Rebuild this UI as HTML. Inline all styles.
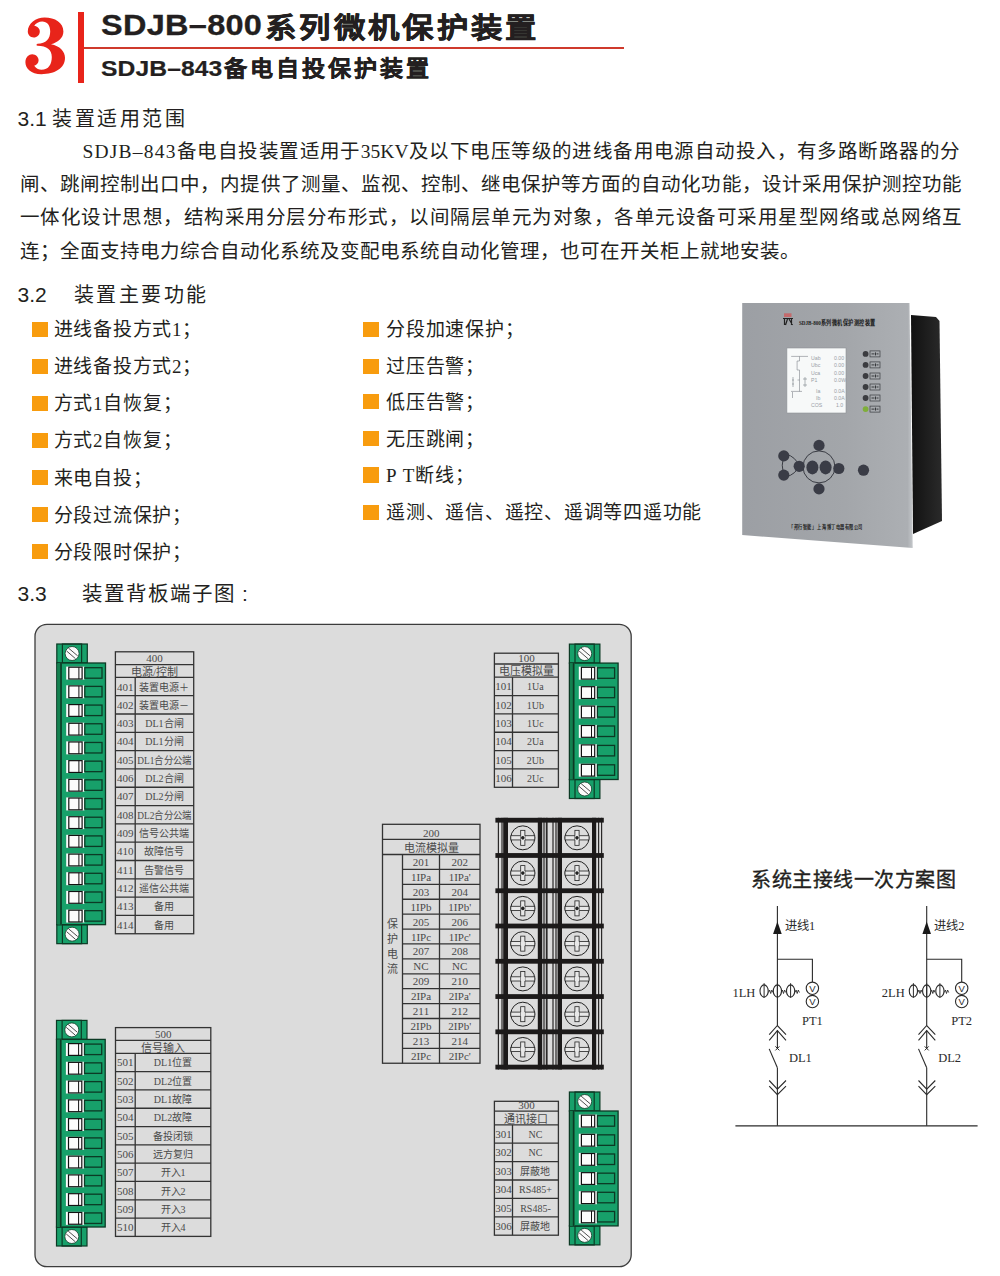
<!DOCTYPE html>
<html lang="zh-CN"><head><meta charset="utf-8"><style>
html,body{margin:0;padding:0;background:#fff;text-spacing-trim:space-all;font-kerning:none;}
body{width:1000px;height:1276px;position:relative;overflow:hidden;font-family:"Liberation Serif", serif;color:#231f20;}
.a{position:absolute;white-space:nowrap;}
.sans{font-family:"Liberation Sans", sans-serif;}
.ser{font-family:"Liberation Serif", serif;}
.jl{text-align:justify;text-align-last:justify;}
.sq{position:absolute;width:15.5px;height:15.3px;background:#f89c0e;}
</style></head><body>

<svg class="a" style="left:0;top:0" width="100" height="100"><g transform="translate(15,5) scale(0.08)"><path fill="#e8241a" d="M160,330 C160,230 260,155 370,155 C500,155 605,220 605,330 C605,410 540,465 450,490 C560,510 625,580 625,660 C625,790 500,865 330,865 C200,865 130,790 130,715 C130,650 175,615 215,615 C260,615 295,650 295,690 C295,730 270,745 240,760 C270,800 300,810 330,810 C420,810 460,740 460,650 C460,560 400,510 280,510 L265,500 L280,485 C390,480 440,420 440,330 C440,250 400,205 340,205 C300,205 260,225 240,260 C280,265 310,295 310,330 C310,375 275,405 235,405 C190,405 160,370 160,330 Z"/></g></svg>
<div class="a" style="left:78.2px;top:11.8px;width:5.7px;height:71.6px;background:#e8241a;"></div>
<div class="a" style="left:83.9px;top:47.2px;width:540.5px;height:1.8px;background:#cf3a2c;"></div>
<div class="a sans" style="left:100.5px;top:7.3px;font-size:29px;line-height:36px;font-weight:bold;letter-spacing:0.26px;color:#231f20;-webkit-text-stroke:0.3px #231f20;transform:scaleX(1.12);transform-origin:0 0;">SDJB–800</div>
<div class="a sans" style="left:265px;top:10.5px;font-size:28px;line-height:36px;font-weight:bold;letter-spacing:2.67px;color:#231f20;-webkit-text-stroke:0.5px #231f20;transform:scaleX(1.12);transform-origin:0 0;">系列微机保护装置</div>
<div class="a sans" style="left:100.5px;top:53.6px;font-size:22px;line-height:30px;font-weight:bold;letter-spacing:0.1px;color:#231f20;-webkit-text-stroke:0.2px #231f20;transform:scaleX(1.12);transform-origin:0 0;">SDJB–843</div>
<div class="a sans" style="left:223.5px;top:54px;font-size:21.5px;line-height:30px;font-weight:bold;letter-spacing:2.25px;color:#231f20;-webkit-text-stroke:0.4px #231f20;transform:scaleX(1.07);transform-origin:0 0;">备电自投保护装置</div>
<div class="a sans" style="left:17.5px;top:105px;font-size:21px;line-height:28px;">3.1</div>
<div class="a sans" style="left:52px;top:105px;font-size:20px;line-height:28px;letter-spacing:2.5px;">装置适用范围</div>
<div class="a ser jl" style="left:82.5px;top:134.75px;width:877.5px;font-size:19.5px;line-height:33.5px;"><span style="letter-spacing:1.2px">SDJB–843</span>备电自投装置适用于35KV及以下电压等级的进线备用电源自动投入，有多路断路器的分</div>
<div class="a ser jl" style="left:20px;top:168.25px;width:942px;font-size:19.5px;line-height:33.5px;">闸、跳闸控制出口中，内提供了测量、监视、控制、继电保护等方面的自动化功能，设计采用保护测控功能</div>
<div class="a ser jl" style="left:20px;top:201.25px;width:942px;font-size:19.5px;line-height:33.5px;">一体化设计思想，结构采用分层分布形式，以间隔层单元为对象，各单元设备可采用星型网络或总网络互</div>
<div class="a ser" style="left:20px;top:235.25px;font-size:19.5px;line-height:33.5px;letter-spacing:0px;">连；全面支持电力综合自动化系统及变配电系统自动化管理，也可在开关柜上就地安装。</div>
<div class="a sans" style="left:17.5px;top:280.5px;font-size:21px;line-height:28px;">3.2</div>
<div class="a sans" style="left:73.5px;top:280.5px;font-size:20px;line-height:28px;letter-spacing:2.5px;">装置主要功能</div>
<div class="sq" style="left:32px;top:321.5px;"></div>
<div class="a ser" style="left:53.5px;top:315.2px;font-size:19px;letter-spacing:0.75px;line-height:30px;">进线备投方式1；</div>
<div class="sq" style="left:32px;top:358.58px;"></div>
<div class="a ser" style="left:53.5px;top:352.28px;font-size:19px;letter-spacing:0.75px;line-height:30px;">进线备投方式2；</div>
<div class="sq" style="left:32px;top:395.66px;"></div>
<div class="a ser" style="left:53.5px;top:389.36px;font-size:19px;letter-spacing:0.75px;line-height:30px;">方式1自恢复；</div>
<div class="sq" style="left:32px;top:432.74px;"></div>
<div class="a ser" style="left:53.5px;top:426.44px;font-size:19px;letter-spacing:0.75px;line-height:30px;">方式2自恢复；</div>
<div class="sq" style="left:32px;top:469.82px;"></div>
<div class="a ser" style="left:53.5px;top:463.52px;font-size:19px;letter-spacing:0.75px;line-height:30px;">来电自投；</div>
<div class="sq" style="left:32px;top:506.8999999999999px;"></div>
<div class="a ser" style="left:53.5px;top:500.5999999999999px;font-size:19px;letter-spacing:0.75px;line-height:30px;">分段过流保护；</div>
<div class="sq" style="left:32px;top:543.9799999999999px;"></div>
<div class="a ser" style="left:53.5px;top:537.68px;font-size:19px;letter-spacing:0.75px;line-height:30px;">分段限时保护；</div>
<div class="sq" style="left:363px;top:321.5px;"></div>
<div class="a ser" style="left:386px;top:315px;font-size:19px;letter-spacing:0.75px;line-height:30px;">分段加速保护；</div>
<div class="sq" style="left:363px;top:358.5px;"></div>
<div class="a ser" style="left:386px;top:352px;font-size:19px;letter-spacing:0.75px;line-height:30px;">过压告警；</div>
<div class="sq" style="left:363px;top:394.0px;"></div>
<div class="a ser" style="left:386px;top:387.5px;font-size:19px;letter-spacing:0.75px;line-height:30px;">低压告警；</div>
<div class="sq" style="left:363px;top:431.0px;"></div>
<div class="a ser" style="left:386px;top:424.5px;font-size:19px;letter-spacing:0.75px;line-height:30px;">无压跳闸；</div>
<div class="sq" style="left:363px;top:467.3px;"></div>
<div class="a ser" style="left:386px;top:460.8px;font-size:19px;letter-spacing:0.75px;line-height:30px;">P T断线；</div>
<div class="sq" style="left:363px;top:504.9px;"></div>
<div class="a ser" style="left:386px;top:498.4px;font-size:19px;letter-spacing:0.75px;line-height:30px;">遥测、遥信、遥控、遥调等四遥功能</div>
<div class="a sans" style="left:17.5px;top:580px;font-size:21px;line-height:28px;">3.3</div>
<div class="a sans" style="left:82px;top:580px;font-size:20.5px;line-height:28px;letter-spacing:2px;">装置背板端子图</div>
<div class="a sans" style="left:242px;top:580px;font-size:21px;line-height:28px;">:</div>
<svg class="a" style="left:0;top:0" width="1000" height="1276" viewBox="0 0 1000 1276">
<defs>
<linearGradient id="pg" x1="0" y1="0" x2="1" y2="0">
<stop offset="0" stop-color="#9c9fa4"/><stop offset="0.6" stop-color="#a3a6aa"/><stop offset="0.97" stop-color="#acafb3"/><stop offset="1" stop-color="#c4c7ca"/>
</linearGradient>
<linearGradient id="bg2" x1="0" y1="0" x2="1" y2="0">
<stop offset="0" stop-color="#111"/><stop offset="1" stop-color="#2a2a2a"/>
</linearGradient>
</defs>
<polygon points="911,315 936,317 939.5,321 942,521 913,534" fill="url(#bg2)"/>
<polygon points="742.2,303 909.5,303 912.7,548 742.2,535" fill="url(#pg)"/>
<rect x="786.9" y="348" width="59.1" height="65" fill="#f7f9f9" stroke="#8e9095" stroke-width="0.6"/>
<g stroke="#7d838a" stroke-width="0.6" fill="none">
<path d="M791.2 356.4 H808 M799.5 356.4 V361 H797.1 V370 H799.5 V391.5 M791 391.4 H802 M792.5 392 V398"/>
<path d="M793 377 V387 M799.5 380 h-2 M805 377 V387 M803 379 h4 M803 385 h4 M794 380 h-2 M794 384 h-2"/>
</g>
<g fill="#9aa0a6" font-family="Liberation Sans" font-size="5.2">
<text x="811" y="359.5">Uab</text><text x="834" y="359.5">0.00</text>
<text x="811" y="367">Ubc</text><text x="834" y="367">0.00</text>
<text x="811" y="374.5">Uca</text><text x="834" y="374.5">0.00</text>
<text x="811" y="382">P1</text><text x="834" y="382">0.0W</text>
<text x="816" y="393">Ia</text><text x="834" y="393">0.0A</text>
<text x="816" y="400">Ib</text><text x="834" y="400">0.0A</text>
<text x="811" y="407">COS</text><text x="836" y="407">1.0</text>
</g>
<g fill="#505257" font-family="Liberation Serif" font-size="5">
<text x="799" y="324.8" font-size="6.5" textLength="77" lengthAdjust="spacingAndGlyphs" fill="#1c1d21" font-weight="bold">SDJB-800系列微机保护测控装置</text>
<text x="789" y="529" font-size="5.5" textLength="74" lengthAdjust="spacingAndGlyphs" fill="#1c1d21" font-weight="bold">「邦行智能」 上海博丁电器有限公司</text>
</g>
<rect x="784" y="313.3" width="7.5" height="3.7" fill="#c46a6c"/>
<path d="M783 318.5 H793 M784.5 318.5 V325 M787.5 319 L785.5 325 M789 319 L792.5 325 M791.5 319 V325" stroke="#222" stroke-width="1.2" fill="none"/>

<circle cx="865.6" cy="353.9" r="2.9" fill="#3b3c40"/><rect x="870" y="350.9" width="10" height="6" fill="none" stroke="#3a3c40" stroke-width="0.7"/><path d="M871.5 353.9 h3 M875.5 352.4 v3 M876.5 353.9 h2" stroke="#2a2c30" stroke-width="0.9"/>
<circle cx="865.6" cy="364.9" r="2.9" fill="#3b3c40"/><rect x="870" y="361.9" width="10" height="6" fill="none" stroke="#3a3c40" stroke-width="0.7"/><path d="M871.5 364.9 h3 M875.5 363.4 v3 M876.5 364.9 h2" stroke="#2a2c30" stroke-width="0.9"/>
<circle cx="865.6" cy="376" r="2.9" fill="#3b3c40"/><rect x="870" y="373" width="10" height="6" fill="none" stroke="#3a3c40" stroke-width="0.7"/><path d="M871.5 376 h3 M875.5 374.5 v3 M876.5 376 h2" stroke="#2a2c30" stroke-width="0.9"/>
<circle cx="865.6" cy="387" r="2.9" fill="#3b3c40"/><rect x="870" y="384" width="10" height="6" fill="none" stroke="#3a3c40" stroke-width="0.7"/><path d="M871.5 387 h3 M875.5 385.5 v3 M876.5 387 h2" stroke="#2a2c30" stroke-width="0.9"/>
<circle cx="865.6" cy="398" r="2.9" fill="#3b3c40"/><rect x="870" y="395" width="10" height="6" fill="none" stroke="#3a3c40" stroke-width="0.7"/><path d="M871.5 398 h3 M875.5 396.5 v3 M876.5 398 h2" stroke="#2a2c30" stroke-width="0.9"/>
<circle cx="865.6" cy="409.1" r="2.9" fill="#7fae3a"/><rect x="870" y="406.1" width="10" height="6" fill="none" stroke="#3a3c40" stroke-width="0.7"/><path d="M871.5 409.1 h3 M875.5 407.6 v3 M876.5 409.1 h2" stroke="#2a2c30" stroke-width="0.9"/>
<g fill="none" stroke="#2e3038" stroke-width="0.9">
<circle cx="819" cy="466.9" r="16"/>
<path d="M783.5 456 Q781 465 783.5 475"/><path d="M786 454 Q796 457 799 466 Q796 474 786 477"/>
</g>
<g fill="#3a3c46">
<circle cx="819" cy="445.4" r="5.6"/><circle cx="819" cy="488.9" r="5.6"/>
<circle cx="799.2" cy="466.3" r="5.6"/><circle cx="838.8" cy="468.5" r="5.6"/>
<ellipse cx="812.4" cy="467.4" rx="6" ry="7"/><ellipse cx="825.6" cy="467.4" rx="6" ry="7"/>
<circle cx="783.8" cy="455.9" r="5.6"/><circle cx="783.8" cy="475.1" r="5.6"/>
<circle cx="863.5" cy="470.2" r="5.6"/>
</g>

<rect x="35" y="624.3" width="596.2" height="642.4" rx="12" ry="12" fill="#dcdcdc" stroke="#3c3c3c" stroke-width="1.3"/>
<rect x="56.8" y="644" width="30.5" height="19" fill="#17a06a" stroke="#0c3a25" stroke-width="1.2"/><rect x="62.4" y="644" width="19.2" height="19" fill="none" stroke="#0c3a25" stroke-width="1.2"/><circle cx="72.1" cy="653.5" r="7" fill="#fbfbfb" stroke="#0c3a25" stroke-width="0.8"/><path d="M66.5 650.9 L75.5 658.7 M68.5 648.1 L77.69999999999999 655.9" stroke="#222" stroke-width="0.8"/><rect x="56.8" y="924.6600000000001" width="30.5" height="19" fill="#17a06a" stroke="#0c3a25" stroke-width="1.2"/><rect x="62.4" y="924.6600000000001" width="19.2" height="19" fill="none" stroke="#0c3a25" stroke-width="1.2"/><circle cx="72.1" cy="934.1600000000001" r="7" fill="#fbfbfb" stroke="#0c3a25" stroke-width="0.8"/><path d="M66.5 931.5600000000001 L75.5 939.3600000000001 M68.5 928.7600000000001 L77.69999999999999 936.5600000000001" stroke="#222" stroke-width="0.8"/><rect x="56.8" y="663" width="48.7" height="261.66" fill="#17a06a" stroke="#0c3a25" stroke-width="1.3"/><rect x="57.4" y="663" width="4.6" height="261.66" fill="#13804f"/><line x1="61.0" y1="663" x2="61.0" y2="924.6600000000001" stroke="#0c3a25" stroke-width="1.6"/><rect x="66.2" y="666.6" width="18.2" height="13" fill="#fcfcfc"/><rect x="68.8" y="667.2" width="13.3" height="11.8" fill="none" stroke="#111" stroke-width="1.2"/><line x1="78.9" y1="667.2" x2="78.9" y2="679.0" stroke="#111" stroke-width="1"/><rect x="84.80000000000001" y="667.7" width="17.2" height="10.5" fill="#17a06a" stroke="#0c3a25" stroke-width="1.3"/><rect x="66.2" y="685.2900000000001" width="18.2" height="13" fill="#fcfcfc"/><rect x="68.8" y="685.8900000000001" width="13.3" height="11.8" fill="none" stroke="#111" stroke-width="1.2"/><line x1="78.9" y1="685.8900000000001" x2="78.9" y2="697.69" stroke="#111" stroke-width="1"/><rect x="84.80000000000001" y="686.3900000000001" width="17.2" height="10.5" fill="#17a06a" stroke="#0c3a25" stroke-width="1.3"/><rect x="66.2" y="703.98" width="18.2" height="13" fill="#fcfcfc"/><rect x="68.8" y="704.58" width="13.3" height="11.8" fill="none" stroke="#111" stroke-width="1.2"/><line x1="78.9" y1="704.58" x2="78.9" y2="716.38" stroke="#111" stroke-width="1"/><rect x="84.80000000000001" y="705.08" width="17.2" height="10.5" fill="#17a06a" stroke="#0c3a25" stroke-width="1.3"/><rect x="66.2" y="722.6700000000001" width="18.2" height="13" fill="#fcfcfc"/><rect x="68.8" y="723.2700000000001" width="13.3" height="11.8" fill="none" stroke="#111" stroke-width="1.2"/><line x1="78.9" y1="723.2700000000001" x2="78.9" y2="735.07" stroke="#111" stroke-width="1"/><rect x="84.80000000000001" y="723.7700000000001" width="17.2" height="10.5" fill="#17a06a" stroke="#0c3a25" stroke-width="1.3"/><rect x="66.2" y="741.36" width="18.2" height="13" fill="#fcfcfc"/><rect x="68.8" y="741.96" width="13.3" height="11.8" fill="none" stroke="#111" stroke-width="1.2"/><line x1="78.9" y1="741.96" x2="78.9" y2="753.76" stroke="#111" stroke-width="1"/><rect x="84.80000000000001" y="742.46" width="17.2" height="10.5" fill="#17a06a" stroke="#0c3a25" stroke-width="1.3"/><rect x="66.2" y="760.0500000000001" width="18.2" height="13" fill="#fcfcfc"/><rect x="68.8" y="760.6500000000001" width="13.3" height="11.8" fill="none" stroke="#111" stroke-width="1.2"/><line x1="78.9" y1="760.6500000000001" x2="78.9" y2="772.45" stroke="#111" stroke-width="1"/><rect x="84.80000000000001" y="761.1500000000001" width="17.2" height="10.5" fill="#17a06a" stroke="#0c3a25" stroke-width="1.3"/><rect x="66.2" y="778.74" width="18.2" height="13" fill="#fcfcfc"/><rect x="68.8" y="779.34" width="13.3" height="11.8" fill="none" stroke="#111" stroke-width="1.2"/><line x1="78.9" y1="779.34" x2="78.9" y2="791.14" stroke="#111" stroke-width="1"/><rect x="84.80000000000001" y="779.84" width="17.2" height="10.5" fill="#17a06a" stroke="#0c3a25" stroke-width="1.3"/><rect x="66.2" y="797.4300000000001" width="18.2" height="13" fill="#fcfcfc"/><rect x="68.8" y="798.0300000000001" width="13.3" height="11.8" fill="none" stroke="#111" stroke-width="1.2"/><line x1="78.9" y1="798.0300000000001" x2="78.9" y2="809.83" stroke="#111" stroke-width="1"/><rect x="84.80000000000001" y="798.5300000000001" width="17.2" height="10.5" fill="#17a06a" stroke="#0c3a25" stroke-width="1.3"/><rect x="66.2" y="816.12" width="18.2" height="13" fill="#fcfcfc"/><rect x="68.8" y="816.72" width="13.3" height="11.8" fill="none" stroke="#111" stroke-width="1.2"/><line x1="78.9" y1="816.72" x2="78.9" y2="828.52" stroke="#111" stroke-width="1"/><rect x="84.80000000000001" y="817.22" width="17.2" height="10.5" fill="#17a06a" stroke="#0c3a25" stroke-width="1.3"/><rect x="66.2" y="834.8100000000001" width="18.2" height="13" fill="#fcfcfc"/><rect x="68.8" y="835.4100000000001" width="13.3" height="11.8" fill="none" stroke="#111" stroke-width="1.2"/><line x1="78.9" y1="835.4100000000001" x2="78.9" y2="847.21" stroke="#111" stroke-width="1"/><rect x="84.80000000000001" y="835.9100000000001" width="17.2" height="10.5" fill="#17a06a" stroke="#0c3a25" stroke-width="1.3"/><rect x="66.2" y="853.5" width="18.2" height="13" fill="#fcfcfc"/><rect x="68.8" y="854.1" width="13.3" height="11.8" fill="none" stroke="#111" stroke-width="1.2"/><line x1="78.9" y1="854.1" x2="78.9" y2="865.9" stroke="#111" stroke-width="1"/><rect x="84.80000000000001" y="854.6" width="17.2" height="10.5" fill="#17a06a" stroke="#0c3a25" stroke-width="1.3"/><rect x="66.2" y="872.19" width="18.2" height="13" fill="#fcfcfc"/><rect x="68.8" y="872.7900000000001" width="13.3" height="11.8" fill="none" stroke="#111" stroke-width="1.2"/><line x1="78.9" y1="872.7900000000001" x2="78.9" y2="884.59" stroke="#111" stroke-width="1"/><rect x="84.80000000000001" y="873.2900000000001" width="17.2" height="10.5" fill="#17a06a" stroke="#0c3a25" stroke-width="1.3"/><rect x="66.2" y="890.8800000000001" width="18.2" height="13" fill="#fcfcfc"/><rect x="68.8" y="891.4800000000001" width="13.3" height="11.8" fill="none" stroke="#111" stroke-width="1.2"/><line x1="78.9" y1="891.4800000000001" x2="78.9" y2="903.2800000000001" stroke="#111" stroke-width="1"/><rect x="84.80000000000001" y="891.9800000000001" width="17.2" height="10.5" fill="#17a06a" stroke="#0c3a25" stroke-width="1.3"/><rect x="66.2" y="909.57" width="18.2" height="13" fill="#fcfcfc"/><rect x="68.8" y="910.1700000000001" width="13.3" height="11.8" fill="none" stroke="#111" stroke-width="1.2"/><line x1="78.9" y1="910.1700000000001" x2="78.9" y2="921.97" stroke="#111" stroke-width="1"/><rect x="84.80000000000001" y="910.6700000000001" width="17.2" height="10.5" fill="#17a06a" stroke="#0c3a25" stroke-width="1.3"/>
<rect x="569.4" y="644.1" width="30.5" height="19" fill="#17a06a" stroke="#0c3a25" stroke-width="1.2"/><rect x="575.0" y="644.1" width="19.2" height="19" fill="none" stroke="#0c3a25" stroke-width="1.2"/><circle cx="584.6999999999999" cy="653.6" r="7" fill="#fbfbfb" stroke="#0c3a25" stroke-width="0.8"/><path d="M579.0999999999999 651.0 L588.0999999999999 658.8000000000001 M581.0999999999999 648.2 L590.3 656.0" stroke="#222" stroke-width="0.8"/><rect x="569.4" y="779.5" width="30.5" height="19" fill="#17a06a" stroke="#0c3a25" stroke-width="1.2"/><rect x="575.0" y="779.5" width="19.2" height="19" fill="none" stroke="#0c3a25" stroke-width="1.2"/><circle cx="584.6999999999999" cy="789.0" r="7" fill="#fbfbfb" stroke="#0c3a25" stroke-width="0.8"/><path d="M579.0999999999999 786.4 L588.0999999999999 794.2 M581.0999999999999 783.6 L590.3 791.4" stroke="#222" stroke-width="0.8"/><rect x="569.4" y="663.1" width="48.7" height="116.39999999999999" fill="#17a06a" stroke="#0c3a25" stroke-width="1.3"/><rect x="570.0" y="663.1" width="4.6" height="116.39999999999999" fill="#13804f"/><line x1="573.6" y1="663.1" x2="573.6" y2="779.5" stroke="#0c3a25" stroke-width="1.6"/><rect x="578.8" y="666.7" width="18.2" height="13" fill="#fcfcfc"/><rect x="581.4" y="667.3000000000001" width="13.3" height="11.8" fill="none" stroke="#111" stroke-width="1.2"/><line x1="591.5" y1="667.3000000000001" x2="591.5" y2="679.1" stroke="#111" stroke-width="1"/><rect x="597.4" y="667.8000000000001" width="17.2" height="10.5" fill="#17a06a" stroke="#0c3a25" stroke-width="1.3"/><rect x="578.8" y="686.1" width="18.2" height="13" fill="#fcfcfc"/><rect x="581.4" y="686.7" width="13.3" height="11.8" fill="none" stroke="#111" stroke-width="1.2"/><line x1="591.5" y1="686.7" x2="591.5" y2="698.5" stroke="#111" stroke-width="1"/><rect x="597.4" y="687.2" width="17.2" height="10.5" fill="#17a06a" stroke="#0c3a25" stroke-width="1.3"/><rect x="578.8" y="705.5" width="18.2" height="13" fill="#fcfcfc"/><rect x="581.4" y="706.1" width="13.3" height="11.8" fill="none" stroke="#111" stroke-width="1.2"/><line x1="591.5" y1="706.1" x2="591.5" y2="717.9" stroke="#111" stroke-width="1"/><rect x="597.4" y="706.6" width="17.2" height="10.5" fill="#17a06a" stroke="#0c3a25" stroke-width="1.3"/><rect x="578.8" y="724.9000000000001" width="18.2" height="13" fill="#fcfcfc"/><rect x="581.4" y="725.5000000000001" width="13.3" height="11.8" fill="none" stroke="#111" stroke-width="1.2"/><line x1="591.5" y1="725.5000000000001" x2="591.5" y2="737.3000000000001" stroke="#111" stroke-width="1"/><rect x="597.4" y="726.0000000000001" width="17.2" height="10.5" fill="#17a06a" stroke="#0c3a25" stroke-width="1.3"/><rect x="578.8" y="744.3000000000001" width="18.2" height="13" fill="#fcfcfc"/><rect x="581.4" y="744.9000000000001" width="13.3" height="11.8" fill="none" stroke="#111" stroke-width="1.2"/><line x1="591.5" y1="744.9000000000001" x2="591.5" y2="756.7" stroke="#111" stroke-width="1"/><rect x="597.4" y="745.4000000000001" width="17.2" height="10.5" fill="#17a06a" stroke="#0c3a25" stroke-width="1.3"/><rect x="578.8" y="763.7" width="18.2" height="13" fill="#fcfcfc"/><rect x="581.4" y="764.3000000000001" width="13.3" height="11.8" fill="none" stroke="#111" stroke-width="1.2"/><line x1="591.5" y1="764.3000000000001" x2="591.5" y2="776.1" stroke="#111" stroke-width="1"/><rect x="597.4" y="764.8000000000001" width="17.2" height="10.5" fill="#17a06a" stroke="#0c3a25" stroke-width="1.3"/>
<rect x="56.5" y="1020.4" width="30.5" height="19" fill="#17a06a" stroke="#0c3a25" stroke-width="1.2"/><rect x="62.1" y="1020.4" width="19.2" height="19" fill="none" stroke="#0c3a25" stroke-width="1.2"/><circle cx="71.8" cy="1029.9" r="7" fill="#fbfbfb" stroke="#0c3a25" stroke-width="0.8"/><path d="M66.2 1027.3000000000002 L75.2 1035.1000000000001 M68.2 1024.5 L77.39999999999999 1032.3000000000002" stroke="#222" stroke-width="0.8"/><rect x="56.5" y="1227.0" width="30.5" height="19" fill="#17a06a" stroke="#0c3a25" stroke-width="1.2"/><rect x="62.1" y="1227.0" width="19.2" height="19" fill="none" stroke="#0c3a25" stroke-width="1.2"/><circle cx="71.8" cy="1236.5" r="7" fill="#fbfbfb" stroke="#0c3a25" stroke-width="0.8"/><path d="M66.2 1233.9 L75.2 1241.7 M68.2 1231.1 L77.39999999999999 1238.9" stroke="#222" stroke-width="0.8"/><rect x="56.5" y="1039.4" width="48.7" height="187.60000000000002" fill="#17a06a" stroke="#0c3a25" stroke-width="1.3"/><rect x="57.1" y="1039.4" width="4.6" height="187.60000000000002" fill="#13804f"/><line x1="60.7" y1="1039.4" x2="60.7" y2="1227.0" stroke="#0c3a25" stroke-width="1.6"/><rect x="65.9" y="1043.0" width="18.2" height="13" fill="#fcfcfc"/><rect x="68.5" y="1043.6" width="13.3" height="11.8" fill="none" stroke="#111" stroke-width="1.2"/><line x1="78.60000000000001" y1="1043.6" x2="78.60000000000001" y2="1055.4" stroke="#111" stroke-width="1"/><rect x="84.5" y="1044.1" width="17.2" height="10.5" fill="#17a06a" stroke="#0c3a25" stroke-width="1.3"/><rect x="65.9" y="1061.76" width="18.2" height="13" fill="#fcfcfc"/><rect x="68.5" y="1062.36" width="13.3" height="11.8" fill="none" stroke="#111" stroke-width="1.2"/><line x1="78.60000000000001" y1="1062.36" x2="78.60000000000001" y2="1074.16" stroke="#111" stroke-width="1"/><rect x="84.5" y="1062.86" width="17.2" height="10.5" fill="#17a06a" stroke="#0c3a25" stroke-width="1.3"/><rect x="65.9" y="1080.52" width="18.2" height="13" fill="#fcfcfc"/><rect x="68.5" y="1081.12" width="13.3" height="11.8" fill="none" stroke="#111" stroke-width="1.2"/><line x1="78.60000000000001" y1="1081.12" x2="78.60000000000001" y2="1092.92" stroke="#111" stroke-width="1"/><rect x="84.5" y="1081.62" width="17.2" height="10.5" fill="#17a06a" stroke="#0c3a25" stroke-width="1.3"/><rect x="65.9" y="1099.28" width="18.2" height="13" fill="#fcfcfc"/><rect x="68.5" y="1099.8799999999999" width="13.3" height="11.8" fill="none" stroke="#111" stroke-width="1.2"/><line x1="78.60000000000001" y1="1099.8799999999999" x2="78.60000000000001" y2="1111.68" stroke="#111" stroke-width="1"/><rect x="84.5" y="1100.3799999999999" width="17.2" height="10.5" fill="#17a06a" stroke="#0c3a25" stroke-width="1.3"/><rect x="65.9" y="1118.04" width="18.2" height="13" fill="#fcfcfc"/><rect x="68.5" y="1118.6399999999999" width="13.3" height="11.8" fill="none" stroke="#111" stroke-width="1.2"/><line x1="78.60000000000001" y1="1118.6399999999999" x2="78.60000000000001" y2="1130.44" stroke="#111" stroke-width="1"/><rect x="84.5" y="1119.1399999999999" width="17.2" height="10.5" fill="#17a06a" stroke="#0c3a25" stroke-width="1.3"/><rect x="65.9" y="1136.8" width="18.2" height="13" fill="#fcfcfc"/><rect x="68.5" y="1137.3999999999999" width="13.3" height="11.8" fill="none" stroke="#111" stroke-width="1.2"/><line x1="78.60000000000001" y1="1137.3999999999999" x2="78.60000000000001" y2="1149.2" stroke="#111" stroke-width="1"/><rect x="84.5" y="1137.8999999999999" width="17.2" height="10.5" fill="#17a06a" stroke="#0c3a25" stroke-width="1.3"/><rect x="65.9" y="1155.56" width="18.2" height="13" fill="#fcfcfc"/><rect x="68.5" y="1156.1599999999999" width="13.3" height="11.8" fill="none" stroke="#111" stroke-width="1.2"/><line x1="78.60000000000001" y1="1156.1599999999999" x2="78.60000000000001" y2="1167.96" stroke="#111" stroke-width="1"/><rect x="84.5" y="1156.6599999999999" width="17.2" height="10.5" fill="#17a06a" stroke="#0c3a25" stroke-width="1.3"/><rect x="65.9" y="1174.32" width="18.2" height="13" fill="#fcfcfc"/><rect x="68.5" y="1174.9199999999998" width="13.3" height="11.8" fill="none" stroke="#111" stroke-width="1.2"/><line x1="78.60000000000001" y1="1174.9199999999998" x2="78.60000000000001" y2="1186.72" stroke="#111" stroke-width="1"/><rect x="84.5" y="1175.4199999999998" width="17.2" height="10.5" fill="#17a06a" stroke="#0c3a25" stroke-width="1.3"/><rect x="65.9" y="1193.08" width="18.2" height="13" fill="#fcfcfc"/><rect x="68.5" y="1193.6799999999998" width="13.3" height="11.8" fill="none" stroke="#111" stroke-width="1.2"/><line x1="78.60000000000001" y1="1193.6799999999998" x2="78.60000000000001" y2="1205.48" stroke="#111" stroke-width="1"/><rect x="84.5" y="1194.1799999999998" width="17.2" height="10.5" fill="#17a06a" stroke="#0c3a25" stroke-width="1.3"/><rect x="65.9" y="1211.84" width="18.2" height="13" fill="#fcfcfc"/><rect x="68.5" y="1212.4399999999998" width="13.3" height="11.8" fill="none" stroke="#111" stroke-width="1.2"/><line x1="78.60000000000001" y1="1212.4399999999998" x2="78.60000000000001" y2="1224.24" stroke="#111" stroke-width="1"/><rect x="84.5" y="1212.9399999999998" width="17.2" height="10.5" fill="#17a06a" stroke="#0c3a25" stroke-width="1.3"/>
<rect x="569.4" y="1092" width="30.5" height="19" fill="#17a06a" stroke="#0c3a25" stroke-width="1.2"/><rect x="575.0" y="1092" width="19.2" height="19" fill="none" stroke="#0c3a25" stroke-width="1.2"/><circle cx="584.6999999999999" cy="1101.5" r="7" fill="#fbfbfb" stroke="#0c3a25" stroke-width="0.8"/><path d="M579.0999999999999 1098.9 L588.0999999999999 1106.7 M581.0999999999999 1096.1 L590.3 1103.9" stroke="#222" stroke-width="0.8"/><rect x="569.4" y="1225.9" width="30.5" height="19" fill="#17a06a" stroke="#0c3a25" stroke-width="1.2"/><rect x="575.0" y="1225.9" width="19.2" height="19" fill="none" stroke="#0c3a25" stroke-width="1.2"/><circle cx="584.6999999999999" cy="1235.4" r="7" fill="#fbfbfb" stroke="#0c3a25" stroke-width="0.8"/><path d="M579.0999999999999 1232.8000000000002 L588.0999999999999 1240.6000000000001 M581.0999999999999 1230.0 L590.3 1237.8000000000002" stroke="#222" stroke-width="0.8"/><rect x="569.4" y="1111" width="48.7" height="114.89999999999999" fill="#17a06a" stroke="#0c3a25" stroke-width="1.3"/><rect x="570.0" y="1111" width="4.6" height="114.89999999999999" fill="#13804f"/><line x1="573.6" y1="1111" x2="573.6" y2="1225.9" stroke="#0c3a25" stroke-width="1.6"/><rect x="578.8" y="1114.6" width="18.2" height="13" fill="#fcfcfc"/><rect x="581.4" y="1115.1999999999998" width="13.3" height="11.8" fill="none" stroke="#111" stroke-width="1.2"/><line x1="591.5" y1="1115.1999999999998" x2="591.5" y2="1127.0" stroke="#111" stroke-width="1"/><rect x="597.4" y="1115.6999999999998" width="17.2" height="10.5" fill="#17a06a" stroke="#0c3a25" stroke-width="1.3"/><rect x="578.8" y="1133.75" width="18.2" height="13" fill="#fcfcfc"/><rect x="581.4" y="1134.35" width="13.3" height="11.8" fill="none" stroke="#111" stroke-width="1.2"/><line x1="591.5" y1="1134.35" x2="591.5" y2="1146.15" stroke="#111" stroke-width="1"/><rect x="597.4" y="1134.85" width="17.2" height="10.5" fill="#17a06a" stroke="#0c3a25" stroke-width="1.3"/><rect x="578.8" y="1152.8999999999999" width="18.2" height="13" fill="#fcfcfc"/><rect x="581.4" y="1153.4999999999998" width="13.3" height="11.8" fill="none" stroke="#111" stroke-width="1.2"/><line x1="591.5" y1="1153.4999999999998" x2="591.5" y2="1165.3" stroke="#111" stroke-width="1"/><rect x="597.4" y="1153.9999999999998" width="17.2" height="10.5" fill="#17a06a" stroke="#0c3a25" stroke-width="1.3"/><rect x="578.8" y="1172.05" width="18.2" height="13" fill="#fcfcfc"/><rect x="581.4" y="1172.6499999999999" width="13.3" height="11.8" fill="none" stroke="#111" stroke-width="1.2"/><line x1="591.5" y1="1172.6499999999999" x2="591.5" y2="1184.45" stroke="#111" stroke-width="1"/><rect x="597.4" y="1173.1499999999999" width="17.2" height="10.5" fill="#17a06a" stroke="#0c3a25" stroke-width="1.3"/><rect x="578.8" y="1191.1999999999998" width="18.2" height="13" fill="#fcfcfc"/><rect x="581.4" y="1191.7999999999997" width="13.3" height="11.8" fill="none" stroke="#111" stroke-width="1.2"/><line x1="591.5" y1="1191.7999999999997" x2="591.5" y2="1203.6" stroke="#111" stroke-width="1"/><rect x="597.4" y="1192.2999999999997" width="17.2" height="10.5" fill="#17a06a" stroke="#0c3a25" stroke-width="1.3"/><rect x="578.8" y="1210.35" width="18.2" height="13" fill="#fcfcfc"/><rect x="581.4" y="1210.9499999999998" width="13.3" height="11.8" fill="none" stroke="#111" stroke-width="1.2"/><line x1="591.5" y1="1210.9499999999998" x2="591.5" y2="1222.75" stroke="#111" stroke-width="1"/><rect x="597.4" y="1211.4499999999998" width="17.2" height="10.5" fill="#17a06a" stroke="#0c3a25" stroke-width="1.3"/>
<g font-family="Liberation Serif" fill="#4a4a4a">
<rect x="115.4" y="651.8" width="78.29999999999998" height="281.94000000000005" fill="none" stroke="#333" stroke-width="1.3"/><line x1="115.4" y1="664.6" x2="193.7" y2="664.6" stroke="#333" stroke-width="1.3"/><line x1="115.4" y1="677.4" x2="193.7" y2="677.4" stroke="#333" stroke-width="1.3"/><line x1="135.2" y1="677.4" x2="135.2" y2="933.74" stroke="#333" stroke-width="1.3"/><text x="154.55" y="662.4" text-anchor="middle" font-size="11">400</text><text x="154.55" y="675.6" text-anchor="middle" font-size="11">电源/控制</text><text x="125.3" y="690.555" text-anchor="middle" font-size="11">401</text><text x="164.45" y="690.555" text-anchor="middle" font-size="10">装置电源＋</text><line x1="115.4" y1="695.7099999999999" x2="193.7" y2="695.7099999999999" stroke="#333" stroke-width="1.3"/><text x="125.3" y="708.8649999999999" text-anchor="middle" font-size="11">402</text><text x="164.45" y="708.8649999999999" text-anchor="middle" font-size="10">装置电源－</text><line x1="115.4" y1="714.02" x2="193.7" y2="714.02" stroke="#333" stroke-width="1.3"/><text x="125.3" y="727.175" text-anchor="middle" font-size="11">403</text><text x="164.45" y="727.175" text-anchor="middle" font-size="10">DL1合闸</text><line x1="115.4" y1="732.3299999999999" x2="193.7" y2="732.3299999999999" stroke="#333" stroke-width="1.3"/><text x="125.3" y="745.4849999999999" text-anchor="middle" font-size="11">404</text><text x="164.45" y="745.4849999999999" text-anchor="middle" font-size="10">DL1分闸</text><line x1="115.4" y1="750.64" x2="193.7" y2="750.64" stroke="#333" stroke-width="1.3"/><text x="125.3" y="763.795" text-anchor="middle" font-size="11">405</text><text x="164.45" y="763.795" text-anchor="middle" font-size="10" textLength="54.5" lengthAdjust="spacingAndGlyphs">DL1合分公端</text><line x1="115.4" y1="768.9499999999999" x2="193.7" y2="768.9499999999999" stroke="#333" stroke-width="1.3"/><text x="125.3" y="782.1049999999999" text-anchor="middle" font-size="11">406</text><text x="164.45" y="782.1049999999999" text-anchor="middle" font-size="10">DL2合闸</text><line x1="115.4" y1="787.26" x2="193.7" y2="787.26" stroke="#333" stroke-width="1.3"/><text x="125.3" y="800.415" text-anchor="middle" font-size="11">407</text><text x="164.45" y="800.415" text-anchor="middle" font-size="10">DL2分闸</text><line x1="115.4" y1="805.5699999999999" x2="193.7" y2="805.5699999999999" stroke="#333" stroke-width="1.3"/><text x="125.3" y="818.7249999999999" text-anchor="middle" font-size="11">408</text><text x="164.45" y="818.7249999999999" text-anchor="middle" font-size="10" textLength="54.5" lengthAdjust="spacingAndGlyphs">DL2合分公端</text><line x1="115.4" y1="823.88" x2="193.7" y2="823.88" stroke="#333" stroke-width="1.3"/><text x="125.3" y="837.035" text-anchor="middle" font-size="11">409</text><text x="164.45" y="837.035" text-anchor="middle" font-size="10">信号公共端</text><line x1="115.4" y1="842.1899999999999" x2="193.7" y2="842.1899999999999" stroke="#333" stroke-width="1.3"/><text x="125.3" y="855.3449999999999" text-anchor="middle" font-size="11">410</text><text x="164.45" y="855.3449999999999" text-anchor="middle" font-size="10">故障信号</text><line x1="115.4" y1="860.5" x2="193.7" y2="860.5" stroke="#333" stroke-width="1.3"/><text x="125.3" y="873.655" text-anchor="middle" font-size="11">411</text><text x="164.45" y="873.655" text-anchor="middle" font-size="10">告警信号</text><line x1="115.4" y1="878.81" x2="193.7" y2="878.81" stroke="#333" stroke-width="1.3"/><text x="125.3" y="891.9649999999999" text-anchor="middle" font-size="11">412</text><text x="164.45" y="891.9649999999999" text-anchor="middle" font-size="10">遥信公共端</text><line x1="115.4" y1="897.1199999999999" x2="193.7" y2="897.1199999999999" stroke="#333" stroke-width="1.3"/><text x="125.3" y="910.2749999999999" text-anchor="middle" font-size="11">413</text><text x="164.45" y="910.2749999999999" text-anchor="middle" font-size="10">备用</text><line x1="115.4" y1="915.43" x2="193.7" y2="915.43" stroke="#333" stroke-width="1.3"/><text x="125.3" y="928.5849999999999" text-anchor="middle" font-size="11">414</text><text x="164.45" y="928.5849999999999" text-anchor="middle" font-size="10">备用</text>
<rect x="115.5" y="1027.6" width="95.30000000000001" height="208.79999999999995" fill="none" stroke="#333" stroke-width="1.3"/><line x1="115.5" y1="1040.3" x2="210.8" y2="1040.3" stroke="#333" stroke-width="1.3"/><line x1="115.5" y1="1053.3" x2="210.8" y2="1053.3" stroke="#333" stroke-width="1.3"/><line x1="135.2" y1="1053.3" x2="135.2" y2="1236.3999999999999" stroke="#333" stroke-width="1.3"/><text x="163.15" y="1038.1" text-anchor="middle" font-size="11">500</text><text x="163.15" y="1051.5" text-anchor="middle" font-size="11">信号输入</text><text x="125.35" y="1066.455" text-anchor="middle" font-size="11">501</text><text x="173.0" y="1066.455" text-anchor="middle" font-size="10">DL1位置</text><line x1="115.5" y1="1071.61" x2="210.8" y2="1071.61" stroke="#333" stroke-width="1.3"/><text x="125.35" y="1084.7649999999999" text-anchor="middle" font-size="11">502</text><text x="173.0" y="1084.7649999999999" text-anchor="middle" font-size="10">DL2位置</text><line x1="115.5" y1="1089.9199999999998" x2="210.8" y2="1089.9199999999998" stroke="#333" stroke-width="1.3"/><text x="125.35" y="1103.0749999999998" text-anchor="middle" font-size="11">503</text><text x="173.0" y="1103.0749999999998" text-anchor="middle" font-size="10">DL1故障</text><line x1="115.5" y1="1108.23" x2="210.8" y2="1108.23" stroke="#333" stroke-width="1.3"/><text x="125.35" y="1121.385" text-anchor="middle" font-size="11">504</text><text x="173.0" y="1121.385" text-anchor="middle" font-size="10">DL2故障</text><line x1="115.5" y1="1126.54" x2="210.8" y2="1126.54" stroke="#333" stroke-width="1.3"/><text x="125.35" y="1139.695" text-anchor="middle" font-size="11">505</text><text x="173.0" y="1139.695" text-anchor="middle" font-size="10">备投闭锁</text><line x1="115.5" y1="1144.85" x2="210.8" y2="1144.85" stroke="#333" stroke-width="1.3"/><text x="125.35" y="1158.0049999999999" text-anchor="middle" font-size="11">506</text><text x="173.0" y="1158.0049999999999" text-anchor="middle" font-size="10">远方复归</text><line x1="115.5" y1="1163.1599999999999" x2="210.8" y2="1163.1599999999999" stroke="#333" stroke-width="1.3"/><text x="125.35" y="1176.3149999999998" text-anchor="middle" font-size="11">507</text><text x="173.0" y="1176.3149999999998" text-anchor="middle" font-size="10">开入1</text><line x1="115.5" y1="1181.47" x2="210.8" y2="1181.47" stroke="#333" stroke-width="1.3"/><text x="125.35" y="1194.625" text-anchor="middle" font-size="11">508</text><text x="173.0" y="1194.625" text-anchor="middle" font-size="10">开入2</text><line x1="115.5" y1="1199.78" x2="210.8" y2="1199.78" stroke="#333" stroke-width="1.3"/><text x="125.35" y="1212.935" text-anchor="middle" font-size="11">509</text><text x="173.0" y="1212.935" text-anchor="middle" font-size="10">开入3</text><line x1="115.5" y1="1218.09" x2="210.8" y2="1218.09" stroke="#333" stroke-width="1.3"/><text x="125.35" y="1231.245" text-anchor="middle" font-size="11">510</text><text x="173.0" y="1231.245" text-anchor="middle" font-size="10">开入4</text>
<rect x="494.4" y="653.2" width="64.0" height="134.10000000000002" fill="none" stroke="#333" stroke-width="1.3"/><line x1="494.4" y1="664" x2="558.4" y2="664" stroke="#333" stroke-width="1.3"/><line x1="494.4" y1="677.2" x2="558.4" y2="677.2" stroke="#333" stroke-width="1.3"/><line x1="512.5" y1="677.2" x2="512.5" y2="787.3000000000001" stroke="#333" stroke-width="1.3"/><text x="526.4" y="661.8" text-anchor="middle" font-size="11">100</text><text x="526.4" y="675.4000000000001" text-anchor="middle" font-size="11">电压模拟量</text><text x="503.45" y="690.375" text-anchor="middle" font-size="11">101</text><text x="535.45" y="690.375" text-anchor="middle" font-size="10">1Ua</text><line x1="494.4" y1="695.5500000000001" x2="558.4" y2="695.5500000000001" stroke="#333" stroke-width="1.3"/><text x="503.45" y="708.725" text-anchor="middle" font-size="11">102</text><text x="535.45" y="708.725" text-anchor="middle" font-size="10">1Ub</text><line x1="494.4" y1="713.9000000000001" x2="558.4" y2="713.9000000000001" stroke="#333" stroke-width="1.3"/><text x="503.45" y="727.075" text-anchor="middle" font-size="11">103</text><text x="535.45" y="727.075" text-anchor="middle" font-size="10">1Uc</text><line x1="494.4" y1="732.25" x2="558.4" y2="732.25" stroke="#333" stroke-width="1.3"/><text x="503.45" y="745.425" text-anchor="middle" font-size="11">104</text><text x="535.45" y="745.425" text-anchor="middle" font-size="10">2Ua</text><line x1="494.4" y1="750.6" x2="558.4" y2="750.6" stroke="#333" stroke-width="1.3"/><text x="503.45" y="763.775" text-anchor="middle" font-size="11">105</text><text x="535.45" y="763.775" text-anchor="middle" font-size="10">2Ub</text><line x1="494.4" y1="768.95" x2="558.4" y2="768.95" stroke="#333" stroke-width="1.3"/><text x="503.45" y="782.125" text-anchor="middle" font-size="11">106</text><text x="535.45" y="782.125" text-anchor="middle" font-size="10">2Uc</text>
<rect x="494.4" y="1101.3" width="64.0" height="133.9000000000001" fill="none" stroke="#333" stroke-width="1.3"/><line x1="494.4" y1="1111.2" x2="558.4" y2="1111.2" stroke="#333" stroke-width="1.3"/><line x1="494.4" y1="1124.8" x2="558.4" y2="1124.8" stroke="#333" stroke-width="1.3"/><line x1="512.5" y1="1124.8" x2="512.5" y2="1235.2" stroke="#333" stroke-width="1.3"/><text x="526.4" y="1109.0" text-anchor="middle" font-size="11">300</text><text x="526.4" y="1123.0" text-anchor="middle" font-size="11">通讯接口</text><text x="503.45" y="1138.0" text-anchor="middle" font-size="11">301</text><text x="535.45" y="1138.0" text-anchor="middle" font-size="10">NC</text><line x1="494.4" y1="1143.2" x2="558.4" y2="1143.2" stroke="#333" stroke-width="1.3"/><text x="503.45" y="1156.4" text-anchor="middle" font-size="11">302</text><text x="535.45" y="1156.4" text-anchor="middle" font-size="10">NC</text><line x1="494.4" y1="1161.6" x2="558.4" y2="1161.6" stroke="#333" stroke-width="1.3"/><text x="503.45" y="1174.8" text-anchor="middle" font-size="11">303</text><text x="535.45" y="1174.8" text-anchor="middle" font-size="10">屏蔽地</text><line x1="494.4" y1="1180.0" x2="558.4" y2="1180.0" stroke="#333" stroke-width="1.3"/><text x="503.45" y="1193.2" text-anchor="middle" font-size="11">304</text><text x="535.45" y="1193.2" text-anchor="middle" font-size="10">RS485+</text><line x1="494.4" y1="1198.3999999999999" x2="558.4" y2="1198.3999999999999" stroke="#333" stroke-width="1.3"/><text x="503.45" y="1211.6" text-anchor="middle" font-size="11">305</text><text x="535.45" y="1211.6" text-anchor="middle" font-size="10">RS485-</text><line x1="494.4" y1="1216.8" x2="558.4" y2="1216.8" stroke="#333" stroke-width="1.3"/><text x="503.45" y="1230.0" text-anchor="middle" font-size="11">306</text><text x="535.45" y="1230.0" text-anchor="middle" font-size="10">屏蔽地</text>
<rect x="382.5" y="824.3" width="97.5" height="238.94000000000005" fill="none" stroke="#333" stroke-width="1.3"/><line x1="382.5" y1="839.3" x2="480" y2="839.3" stroke="#333" stroke-width="1.3"/><line x1="382.5" y1="854.5" x2="480" y2="854.5" stroke="#333" stroke-width="1.3"/><line x1="402.5" y1="854.5" x2="402.5" y2="1063.24" stroke="#333" stroke-width="1.3"/><line x1="439.5" y1="854.5" x2="439.5" y2="1063.24" stroke="#333" stroke-width="1.3"/><text x="431.25" y="836.8" text-anchor="middle" font-size="11">200</text><text x="431.25" y="852.0" text-anchor="middle" font-size="11">电流模拟量</text><text x="392.5" y="928" text-anchor="middle" font-size="11">保</text><text x="392.5" y="943" text-anchor="middle" font-size="11">护</text><text x="392.5" y="958" text-anchor="middle" font-size="11">电</text><text x="392.5" y="973" text-anchor="middle" font-size="11">流</text><text x="421.0" y="865.955" text-anchor="middle" font-size="11">201</text><text x="459.75" y="865.955" text-anchor="middle" font-size="11">202</text><line x1="402.5" y1="869.41" x2="480" y2="869.41" stroke="#333" stroke-width="1.3"/><text x="421.0" y="880.865" text-anchor="middle" font-size="11">1IPa</text><text x="459.75" y="880.865" text-anchor="middle" font-size="11">1IPa'</text><line x1="402.5" y1="884.32" x2="480" y2="884.32" stroke="#333" stroke-width="1.3"/><text x="421.0" y="895.7750000000001" text-anchor="middle" font-size="11">203</text><text x="459.75" y="895.7750000000001" text-anchor="middle" font-size="11">204</text><line x1="402.5" y1="899.23" x2="480" y2="899.23" stroke="#333" stroke-width="1.3"/><text x="421.0" y="910.6850000000001" text-anchor="middle" font-size="11">1IPb</text><text x="459.75" y="910.6850000000001" text-anchor="middle" font-size="11">1IPb'</text><line x1="402.5" y1="914.14" x2="480" y2="914.14" stroke="#333" stroke-width="1.3"/><text x="421.0" y="925.595" text-anchor="middle" font-size="11">205</text><text x="459.75" y="925.595" text-anchor="middle" font-size="11">206</text><line x1="402.5" y1="929.05" x2="480" y2="929.05" stroke="#333" stroke-width="1.3"/><text x="421.0" y="940.505" text-anchor="middle" font-size="11">1IPc</text><text x="459.75" y="940.505" text-anchor="middle" font-size="11">1IPc'</text><line x1="402.5" y1="943.96" x2="480" y2="943.96" stroke="#333" stroke-width="1.3"/><text x="421.0" y="955.4150000000001" text-anchor="middle" font-size="11">207</text><text x="459.75" y="955.4150000000001" text-anchor="middle" font-size="11">208</text><line x1="402.5" y1="958.87" x2="480" y2="958.87" stroke="#333" stroke-width="1.3"/><text x="421.0" y="970.325" text-anchor="middle" font-size="11">NC</text><text x="459.75" y="970.325" text-anchor="middle" font-size="11">NC</text><line x1="402.5" y1="973.78" x2="480" y2="973.78" stroke="#333" stroke-width="1.3"/><text x="421.0" y="985.235" text-anchor="middle" font-size="11">209</text><text x="459.75" y="985.235" text-anchor="middle" font-size="11">210</text><line x1="402.5" y1="988.69" x2="480" y2="988.69" stroke="#333" stroke-width="1.3"/><text x="421.0" y="1000.1450000000001" text-anchor="middle" font-size="11">2IPa</text><text x="459.75" y="1000.1450000000001" text-anchor="middle" font-size="11">2IPa'</text><line x1="402.5" y1="1003.6" x2="480" y2="1003.6" stroke="#333" stroke-width="1.3"/><text x="421.0" y="1015.0550000000001" text-anchor="middle" font-size="11">211</text><text x="459.75" y="1015.0550000000001" text-anchor="middle" font-size="11">212</text><line x1="402.5" y1="1018.51" x2="480" y2="1018.51" stroke="#333" stroke-width="1.3"/><text x="421.0" y="1029.965" text-anchor="middle" font-size="11">2IPb</text><text x="459.75" y="1029.965" text-anchor="middle" font-size="11">2IPb'</text><line x1="402.5" y1="1033.42" x2="480" y2="1033.42" stroke="#333" stroke-width="1.3"/><text x="421.0" y="1044.875" text-anchor="middle" font-size="11">213</text><text x="459.75" y="1044.875" text-anchor="middle" font-size="11">214</text><line x1="402.5" y1="1048.33" x2="480" y2="1048.33" stroke="#333" stroke-width="1.3"/><text x="421.0" y="1059.7849999999999" text-anchor="middle" font-size="11">2IPc</text><text x="459.75" y="1059.7849999999999" text-anchor="middle" font-size="11">2IPc'</text>
</g>
<rect x="503.2" y="817.8" width="4.800000000000011" height="251.70000000000005" fill="#1c1a1a"/><rect x="537.8" y="817.8" width="4.400000000000091" height="251.70000000000005" fill="#1c1a1a"/><rect x="557.6" y="817.8" width="4.399999999999977" height="251.70000000000005" fill="#1c1a1a"/><rect x="592" y="817.8" width="4.2000000000000455" height="251.70000000000005" fill="#1c1a1a"/><rect x="497.8" y="817.8" width="1.1999999999999886" height="251.70000000000005" fill="#2a2828"/><rect x="501.4" y="817.8" width="1.2000000000000455" height="251.70000000000005" fill="#2a2828"/><rect x="543.4" y="817.8" width="1.2000000000000455" height="251.70000000000005" fill="#2a2828"/><rect x="545.8" y="817.8" width="1.8000000000000682" height="251.70000000000005" fill="#2a2828"/><rect x="552.4" y="817.8" width="1.2000000000000455" height="251.70000000000005" fill="#2a2828"/><rect x="555.4" y="817.8" width="1.2000000000000455" height="251.70000000000005" fill="#2a2828"/><rect x="598" y="817.8" width="1.2000000000000455" height="251.70000000000005" fill="#2a2828"/><rect x="601" y="817.8" width="1.2000000000000455" height="251.70000000000005" fill="#2a2828"/><rect x="495.4" y="817.8" width="108.39999999999998" height="4.8" fill="#1c1a1a"/><rect x="495.4" y="853.0699999999999" width="108.39999999999998" height="4.8" fill="#1c1a1a"/><rect x="495.4" y="888.3399999999999" width="108.39999999999998" height="4.8" fill="#1c1a1a"/><rect x="495.4" y="923.6099999999999" width="108.39999999999998" height="4.8" fill="#1c1a1a"/><rect x="495.4" y="958.88" width="108.39999999999998" height="4.8" fill="#1c1a1a"/><rect x="495.4" y="994.15" width="108.39999999999998" height="4.8" fill="#1c1a1a"/><rect x="495.4" y="1029.42" width="108.39999999999998" height="4.8" fill="#1c1a1a"/><rect x="495.4" y="1064.69" width="108.39999999999998" height="4.8" fill="#1c1a1a"/><circle cx="522.8" cy="837.8349999999999" r="12" fill="none" stroke="#222" stroke-width="1"/><rect x="510.79999999999995" y="835.7349999999999" width="24" height="4.2" fill="#e8e8e8" stroke="#222" stroke-width="0.8"/><rect x="520.6999999999999" y="830.3349999999999" width="4.2" height="15" fill="#e8e8e8" stroke="#222" stroke-width="0.8"/><rect x="520.6999999999999" y="835.7349999999999" width="4.2" height="4.2" fill="#e8e8e8"/><circle cx="522.8" cy="837.8349999999999" r="1.8" fill="#222"/><circle cx="577" cy="837.8349999999999" r="12" fill="none" stroke="#222" stroke-width="1"/><rect x="565" y="835.7349999999999" width="24" height="4.2" fill="#e8e8e8" stroke="#222" stroke-width="0.8"/><rect x="574.9" y="830.3349999999999" width="4.2" height="15" fill="#e8e8e8" stroke="#222" stroke-width="0.8"/><rect x="574.9" y="835.7349999999999" width="4.2" height="4.2" fill="#e8e8e8"/><circle cx="577" cy="837.8349999999999" r="1.8" fill="#222"/><circle cx="522.8" cy="873.1049999999999" r="12" fill="none" stroke="#222" stroke-width="1"/><rect x="510.79999999999995" y="871.0049999999999" width="24" height="4.2" fill="#e8e8e8" stroke="#222" stroke-width="0.8"/><rect x="520.6999999999999" y="865.6049999999999" width="4.2" height="15" fill="#e8e8e8" stroke="#222" stroke-width="0.8"/><rect x="520.6999999999999" y="871.0049999999999" width="4.2" height="4.2" fill="#e8e8e8"/><circle cx="522.8" cy="873.1049999999999" r="1.8" fill="#222"/><circle cx="577" cy="873.1049999999999" r="12" fill="none" stroke="#222" stroke-width="1"/><rect x="565" y="871.0049999999999" width="24" height="4.2" fill="#e8e8e8" stroke="#222" stroke-width="0.8"/><rect x="574.9" y="865.6049999999999" width="4.2" height="15" fill="#e8e8e8" stroke="#222" stroke-width="0.8"/><rect x="574.9" y="871.0049999999999" width="4.2" height="4.2" fill="#e8e8e8"/><circle cx="577" cy="873.1049999999999" r="1.8" fill="#222"/><circle cx="522.8" cy="908.3749999999999" r="12" fill="none" stroke="#222" stroke-width="1"/><rect x="510.79999999999995" y="906.2749999999999" width="24" height="4.2" fill="#e8e8e8" stroke="#222" stroke-width="0.8"/><rect x="520.6999999999999" y="900.8749999999999" width="4.2" height="15" fill="#e8e8e8" stroke="#222" stroke-width="0.8"/><rect x="520.6999999999999" y="906.2749999999999" width="4.2" height="4.2" fill="#e8e8e8"/><circle cx="522.8" cy="908.3749999999999" r="1.8" fill="#222"/><circle cx="577" cy="908.3749999999999" r="12" fill="none" stroke="#222" stroke-width="1"/><rect x="565" y="906.2749999999999" width="24" height="4.2" fill="#e8e8e8" stroke="#222" stroke-width="0.8"/><rect x="574.9" y="900.8749999999999" width="4.2" height="15" fill="#e8e8e8" stroke="#222" stroke-width="0.8"/><rect x="574.9" y="906.2749999999999" width="4.2" height="4.2" fill="#e8e8e8"/><circle cx="577" cy="908.3749999999999" r="1.8" fill="#222"/><circle cx="522.8" cy="943.6449999999999" r="12" fill="none" stroke="#222" stroke-width="1"/><rect x="510.79999999999995" y="941.5449999999998" width="24" height="4.2" fill="#e8e8e8" stroke="#222" stroke-width="0.8"/><rect x="520.6999999999999" y="936.1449999999999" width="4.2" height="15" fill="#e8e8e8" stroke="#222" stroke-width="0.8"/><rect x="520.6999999999999" y="941.5449999999998" width="4.2" height="4.2" fill="#e8e8e8"/><circle cx="577" cy="943.6449999999999" r="12" fill="none" stroke="#222" stroke-width="1"/><rect x="565" y="941.5449999999998" width="24" height="4.2" fill="#e8e8e8" stroke="#222" stroke-width="0.8"/><rect x="574.9" y="936.1449999999999" width="4.2" height="15" fill="#e8e8e8" stroke="#222" stroke-width="0.8"/><rect x="574.9" y="941.5449999999998" width="4.2" height="4.2" fill="#e8e8e8"/><circle cx="522.8" cy="978.915" r="12" fill="none" stroke="#222" stroke-width="1"/><rect x="510.79999999999995" y="976.8149999999999" width="24" height="4.2" fill="#e8e8e8" stroke="#222" stroke-width="0.8"/><rect x="520.6999999999999" y="971.415" width="4.2" height="15" fill="#e8e8e8" stroke="#222" stroke-width="0.8"/><rect x="520.6999999999999" y="976.8149999999999" width="4.2" height="4.2" fill="#e8e8e8"/><circle cx="577" cy="978.915" r="12" fill="none" stroke="#222" stroke-width="1"/><rect x="565" y="976.8149999999999" width="24" height="4.2" fill="#e8e8e8" stroke="#222" stroke-width="0.8"/><rect x="574.9" y="971.415" width="4.2" height="15" fill="#e8e8e8" stroke="#222" stroke-width="0.8"/><rect x="574.9" y="976.8149999999999" width="4.2" height="4.2" fill="#e8e8e8"/><circle cx="522.8" cy="1014.185" r="12" fill="none" stroke="#222" stroke-width="1"/><rect x="510.79999999999995" y="1012.0849999999999" width="24" height="4.2" fill="#e8e8e8" stroke="#222" stroke-width="0.8"/><rect x="520.6999999999999" y="1006.685" width="4.2" height="15" fill="#e8e8e8" stroke="#222" stroke-width="0.8"/><rect x="520.6999999999999" y="1012.0849999999999" width="4.2" height="4.2" fill="#e8e8e8"/><circle cx="577" cy="1014.185" r="12" fill="none" stroke="#222" stroke-width="1"/><rect x="565" y="1012.0849999999999" width="24" height="4.2" fill="#e8e8e8" stroke="#222" stroke-width="0.8"/><rect x="574.9" y="1006.685" width="4.2" height="15" fill="#e8e8e8" stroke="#222" stroke-width="0.8"/><rect x="574.9" y="1012.0849999999999" width="4.2" height="4.2" fill="#e8e8e8"/><circle cx="522.8" cy="1049.4549999999997" r="12" fill="none" stroke="#222" stroke-width="1"/><rect x="510.79999999999995" y="1047.3549999999998" width="24" height="4.2" fill="#e8e8e8" stroke="#222" stroke-width="0.8"/><rect x="520.6999999999999" y="1041.9549999999997" width="4.2" height="15" fill="#e8e8e8" stroke="#222" stroke-width="0.8"/><rect x="520.6999999999999" y="1047.3549999999998" width="4.2" height="4.2" fill="#e8e8e8"/><circle cx="577" cy="1049.4549999999997" r="12" fill="none" stroke="#222" stroke-width="1"/><rect x="565" y="1047.3549999999998" width="24" height="4.2" fill="#e8e8e8" stroke="#222" stroke-width="0.8"/><rect x="574.9" y="1041.9549999999997" width="4.2" height="15" fill="#e8e8e8" stroke="#222" stroke-width="0.8"/><rect x="574.9" y="1047.3549999999998" width="4.2" height="4.2" fill="#e8e8e8"/>
<text x="751" y="886.5" font-family="Liberation Sans" font-size="20" fill="#231f20" stroke="#231f20" stroke-width="0.35" letter-spacing="0.55">系统主接线一次方案图</text>
<path d="M777.4 906 V1025.5 M777.4 1030.6 V1048.4 M777.4 1067.8 V1125.8" stroke="#2b2b2b" stroke-width="1.1" fill="none"/><polygon points="777.4,921.4 773.1,934 781.6999999999999,934" fill="#1a1a1a"/><text x="784.9" y="930" font-family="Liberation Serif" font-size="12.3" fill="#2b2b2b">进线1</text><path d="M777.4 959.2 H812.4 V982" stroke="#2b2b2b" stroke-width="1.1" fill="none"/><circle cx="812.4" cy="988.3" r="6.2" stroke="#2b2b2b" stroke-width="1.1" fill="none"/><circle cx="812.4" cy="1001.6" r="6.2" stroke="#2b2b2b" stroke-width="1.1" fill="none"/><text x="812.4" y="992" text-anchor="middle" font-family="Liberation Sans" font-size="9.5" fill="#2b2b2b">V</text><text x="812.4" y="1005.3" text-anchor="middle" font-family="Liberation Sans" font-size="9.5" fill="#2b2b2b">V</text><text x="812.4" y="1025" text-anchor="middle" font-family="Liberation Serif" font-size="12.5" fill="#2b2b2b">PT1</text><text x="755.4" y="997" text-anchor="end" font-family="Liberation Serif" font-size="12.5" fill="#2b2b2b">1LH</text><ellipse cx="764.1" cy="991" rx="4.1" ry="6.1" stroke="#2b2b2b" stroke-width="1.1" fill="none"/><line x1="764.1" y1="983.2" x2="764.1" y2="997.6" stroke="#2b2b2b" stroke-width="1"/><ellipse cx="777.4" cy="991" rx="4.1" ry="6.1" stroke="#2b2b2b" stroke-width="1.1" fill="none"/><line x1="777.4" y1="983.2" x2="777.4" y2="997.6" stroke="#2b2b2b" stroke-width="1"/><ellipse cx="790.6" cy="991" rx="4.1" ry="6.1" stroke="#2b2b2b" stroke-width="1.1" fill="none"/><line x1="790.6" y1="983.2" x2="790.6" y2="997.6" stroke="#2b2b2b" stroke-width="1"/><path d="M768.4999999999999 992.5 l1.1 -2.5 l1.1 3.5 l1.1 -3.5 l1.1 2.5" stroke="#2b2b2b" stroke-width="0.9" fill="none"/><path d="M781.3 992.5 l1.1 -2.5 l1.1 3.5 l1.1 -3.5 l1.1 2.5" stroke="#2b2b2b" stroke-width="0.9" fill="none"/><path d="M794.9999999999999 992.5 l1.1 -2.5 l1.1 3.5 l1.1 -3.5 l1.1 2.5" stroke="#2b2b2b" stroke-width="0.9" fill="none"/><path d="M769.1999999999999 1034.7 L777.4 1025.5 L786.0 1034.7 M769.1999999999999 1040.3 L777.4 1030.6 L786.0 1040.3" stroke="#2b2b2b" stroke-width="1.1" fill="none"/><path d="M775.4 1046.4 l4 4 M779.4 1046.4 l-4 4" stroke="#2b2b2b" stroke-width="1"/><path d="M769.1999999999999 1048.9 L777.4 1067.8" stroke="#2b2b2b" stroke-width="1.1"/><path d="M769.1999999999999 1080.5 L777.4 1089.1 L786.0 1080.5 M769.1999999999999 1086.1 L777.4 1094.7 L786.0 1086.1" stroke="#2b2b2b" stroke-width="1.1" fill="none"/><text x="788.9" y="1061.6" font-family="Liberation Serif" font-size="12.5" fill="#2b2b2b">DL1</text>
<path d="M926.7 906 V1025.5 M926.7 1030.6 V1048.4 M926.7 1067.8 V1125.8" stroke="#2b2b2b" stroke-width="1.1" fill="none"/><polygon points="926.7,921.4 922.4000000000001,934 931.0,934" fill="#1a1a1a"/><text x="934.2" y="930" font-family="Liberation Serif" font-size="12.3" fill="#2b2b2b">进线2</text><path d="M926.7 959.2 H961.7 V982" stroke="#2b2b2b" stroke-width="1.1" fill="none"/><circle cx="961.7" cy="988.3" r="6.2" stroke="#2b2b2b" stroke-width="1.1" fill="none"/><circle cx="961.7" cy="1001.6" r="6.2" stroke="#2b2b2b" stroke-width="1.1" fill="none"/><text x="961.7" y="992" text-anchor="middle" font-family="Liberation Sans" font-size="9.5" fill="#2b2b2b">V</text><text x="961.7" y="1005.3" text-anchor="middle" font-family="Liberation Sans" font-size="9.5" fill="#2b2b2b">V</text><text x="961.7" y="1025" text-anchor="middle" font-family="Liberation Serif" font-size="12.5" fill="#2b2b2b">PT2</text><text x="904.7" y="997" text-anchor="end" font-family="Liberation Serif" font-size="12.5" fill="#2b2b2b">2LH</text><ellipse cx="913.4000000000001" cy="991" rx="4.1" ry="6.1" stroke="#2b2b2b" stroke-width="1.1" fill="none"/><line x1="913.4000000000001" y1="983.2" x2="913.4000000000001" y2="997.6" stroke="#2b2b2b" stroke-width="1"/><ellipse cx="926.7" cy="991" rx="4.1" ry="6.1" stroke="#2b2b2b" stroke-width="1.1" fill="none"/><line x1="926.7" y1="983.2" x2="926.7" y2="997.6" stroke="#2b2b2b" stroke-width="1"/><ellipse cx="939.9000000000001" cy="991" rx="4.1" ry="6.1" stroke="#2b2b2b" stroke-width="1.1" fill="none"/><line x1="939.9000000000001" y1="983.2" x2="939.9000000000001" y2="997.6" stroke="#2b2b2b" stroke-width="1"/><path d="M917.8 992.5 l1.1 -2.5 l1.1 3.5 l1.1 -3.5 l1.1 2.5" stroke="#2b2b2b" stroke-width="0.9" fill="none"/><path d="M930.6 992.5 l1.1 -2.5 l1.1 3.5 l1.1 -3.5 l1.1 2.5" stroke="#2b2b2b" stroke-width="0.9" fill="none"/><path d="M944.3 992.5 l1.1 -2.5 l1.1 3.5 l1.1 -3.5 l1.1 2.5" stroke="#2b2b2b" stroke-width="0.9" fill="none"/><path d="M918.5 1034.7 L926.7 1025.5 L935.3000000000001 1034.7 M918.5 1040.3 L926.7 1030.6 L935.3000000000001 1040.3" stroke="#2b2b2b" stroke-width="1.1" fill="none"/><path d="M924.7 1046.4 l4 4 M928.7 1046.4 l-4 4" stroke="#2b2b2b" stroke-width="1"/><path d="M918.5 1048.9 L926.7 1067.8" stroke="#2b2b2b" stroke-width="1.1"/><path d="M918.5 1080.5 L926.7 1089.1 L935.3000000000001 1080.5 M918.5 1086.1 L926.7 1094.7 L935.3000000000001 1086.1" stroke="#2b2b2b" stroke-width="1.1" fill="none"/><text x="938.2" y="1061.6" font-family="Liberation Serif" font-size="12.5" fill="#2b2b2b">DL2</text>
<line x1="735.4" y1="1125.8" x2="977.6" y2="1125.8" stroke="#2b2b2b" stroke-width="1.3"/>
</svg>
</body></html>
